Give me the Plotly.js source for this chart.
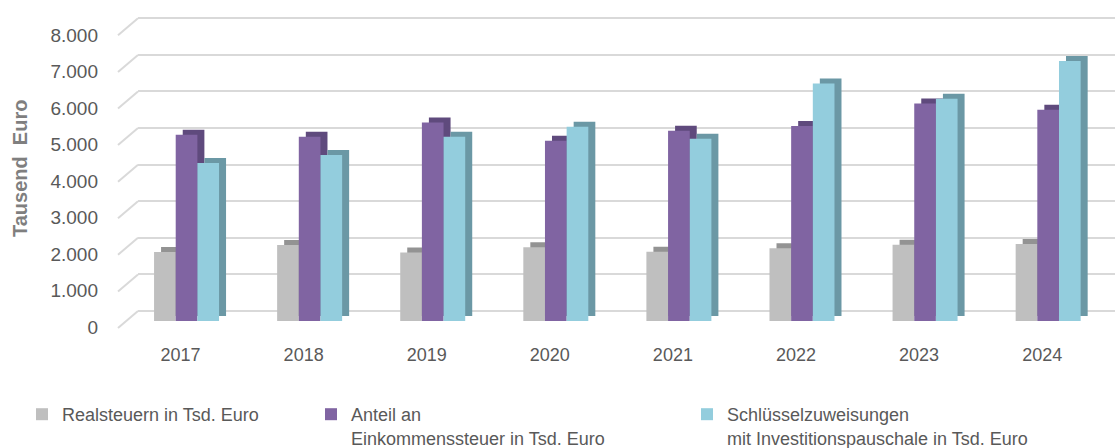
<!DOCTYPE html>
<html>
<head>
<meta charset="utf-8">
<script src="https://cdn.plot.ly/plotly-3.0.1.min.js"></script>
<style>
  html, body { margin: 0; padding: 0; background: #fff; }
  #chart { width: 1115px; height: 448px; }
</style>
</head>
<body>
<div id="chart"></div>
<script>
// Data (Tsd. Euro)
const years = ['2017', '2018', '2019', '2020', '2021', '2022', '2023', '2024'];
const realsteuern = [1890, 2080, 1880, 2020, 1900, 1990, 2090, 2110];
const einkommensteuer = [5100, 5050, 5440, 4940, 5210, 5340, 5960, 5790];
const schluesselzuweisungen = [4330, 4550, 5050, 5320, 4990, 6510, 6090, 7120];

const seriesNames = [
  'Realsteuern in Tsd. Euro',
  'Anteil an<br>Einkommenssteuer in Tsd. Euro',
  'Schlüsselzuweisungen<br>mit Investitionspauschale in Tsd. Euro'
];
const yTickVals = [0, 1000, 2000, 3000, 4000, 5000, 6000, 7000, 8000];
const yTickText = ['0', '1.000', '2.000', '3.000', '4.000', '5.000', '6.000', '7.000', '8.000'];

// Look
const W = 1115, H = 448;
const frontColors = ['#bfbfbf', '#8064a2', '#93cddd'];
const depthColors = ['#939393', '#5f4a7d', '#6b98a5'];
const barW = 0.176;                  // bar width in category units
const barOffsets = [-0.264, -0.088, 0.088];
const depthX = 0.057;                // ~7px sideways for the 3D side face
const depthY = 137;                  // ~5px upwards (data units)
const font = 'Liberation Sans, Arial, sans-serif';

const seriesValues = [realsteuern, einkommensteuer, schluesselzuweisungen];
const legendIds = ['legend', 'legend2', 'legend3'];

const traces = [];

// depth (side/top faces) first, so the front faces cover them
seriesValues.forEach((vals, i) => {
  traces.push({
    type: 'bar',
    x: years,
    y: vals,
    base: depthY,
    width: barW,
    offset: barOffsets[i] + depthX,
    marker: { color: depthColors[i] },
    xaxis: 'x2', yaxis: 'y2',
    showlegend: false,
    hoverinfo: 'skip'
  });
});

// front faces
seriesValues.forEach((vals, i) => {
  traces.push({
    type: 'bar',
    name: seriesNames[i],
    x: years,
    y: vals,
    width: barW,
    offset: barOffsets[i],
    marker: { color: frontColors[i], line: { width: 0 } },
    xaxis: 'x2', yaxis: 'y2',
    legend: legendIds[i]
  });
});

// diagonal side-wall lines of the 3D frame
const wallLines = yTickVals.map(v => ({
  type: 'line',
  xref: 'paper', yref: 'y',
  ysizemode: 'pixel', yanchor: v,
  x0: 118 / W, x1: 138 / W,
  y0: -17, y1: 0,
  line: { color: '#d9d9d9', width: 2 },
  layer: 'below'
}));

const yDomain = [1 - 330 / H, 1 - 10 / H];

const legendBase = {
  orientation: 'v',
  yanchor: 'top',
  y: 1 - 396 / H,
  valign: 'top',
  bgcolor: 'rgba(0,0,0,0)',
  font: { family: font, size: 18, color: '#595959' },
  tracegroupgap: 0
};

const layout = {
  width: W,
  height: H,
  margin: { l: 0, r: 0, t: 0, b: 0, autoexpand: false },
  paper_bgcolor: '#ffffff',
  plot_bgcolor: 'rgba(0,0,0,0)',
  barmode: 'overlay',
  // back wall (grid only)
  xaxis: {
    domain: [138 / W, 1],
    range: [0, 1],
    showgrid: false, zeroline: false, showticklabels: false, showline: false
  },
  yaxis: {
    domain: yDomain,
    range: [-519, 8227],
    tickvals: yTickVals,
    showgrid: true,
    gridcolor: '#d9d9d9',
    gridwidth: 2,
    zeroline: false,
    showticklabels: false,
    showline: false
  },
  // bars and labels
  xaxis2: {
    domain: [125 / W, 1109.7 / W],
    anchor: 'y2',
    type: 'category',
    range: [-0.5, 7.5],
    showgrid: false, zeroline: false, showline: false,
    ticks: '',
    ticklabelshift: -6,
    ticklabelstandoff: 12,
    tickfont: { family: font, size: 18, color: '#595959' }
  },
  yaxis2: {
    domain: yDomain,
    anchor: 'x2',
    range: [-246.6, 8520.5],
    tickvals: yTickVals,
    ticktext: yTickText,
    showgrid: false, zeroline: false, showline: false,
    ticks: '',
    ticklabelshift: 6,
    ticklabelstandoff: 26,
    tickfont: { family: font, size: 19, color: '#595959' }
  },
  shapes: wallLines,
  annotations: [{
    text: 'Tausend  Euro',
    textangle: -90,
    xref: 'paper', yref: 'paper',
    x: 20 / W, y: 1 - 169 / H,
    xanchor: 'center', yanchor: 'middle',
    showarrow: false,
    font: { family: font, size: 20, color: '#7f7f7f', weight: 'bold' }
  }],
  legend: Object.assign({}, legendBase, { x: 22 / W }),
  legend2: Object.assign({}, legendBase, { x: 311 / W }),
  legend3: Object.assign({}, legendBase, { x: 687 / W }),
  showlegend: true
};

Plotly.newPlot('chart', traces, layout, { staticPlot: true, displayModeBar: false });
</script>
</body>
</html>
